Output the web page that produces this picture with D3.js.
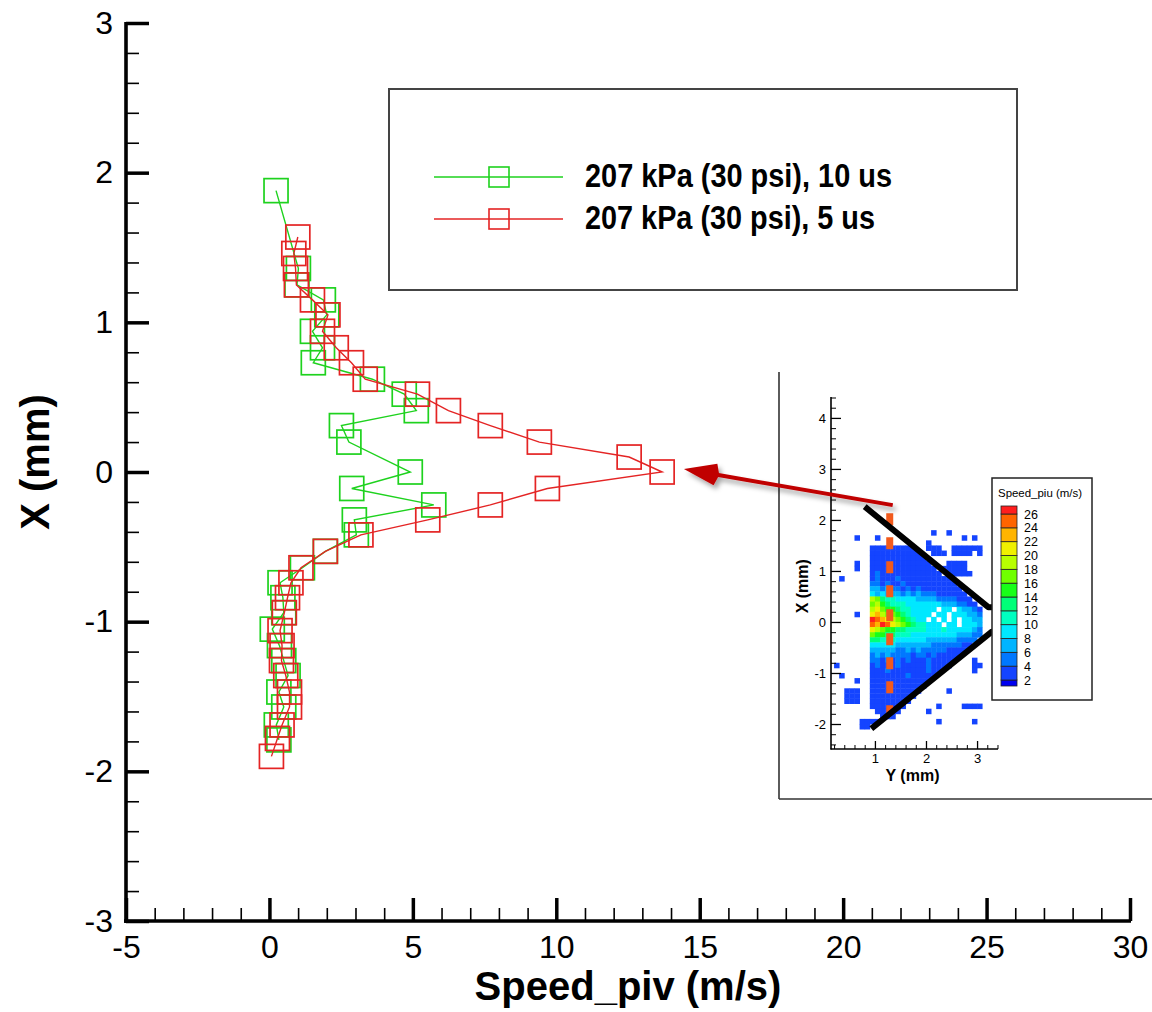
<!DOCTYPE html>
<html>
<head>
<meta charset="utf-8">
<script src="https://cdn.jsdelivr.net/npm/d3@7"></script>
<style>
  html, body { margin: 0; padding: 0; background: #fff; }
  svg { display: block; font-family: Arial, "Liberation Sans", sans-serif; }
</style>
</head>
<body>
<svg id="chart" width="1152" height="1012"></svg>
<script>
// ---------- main profile data ----------
const xTicksMain = [-5, 0, 5, 10, 15, 20, 25, 30];
const yTicksMain = [-3, -2, -1, 0, 1, 2, 3];
const seriesNames = ["207 kPa (30 psi), 10 us", "207 kPa (30 psi), 5 us"];
const seriesColors = ["#1ed21e", "#e42424"];

// 10 us pulse separation: position X (mm) and speed (m/s)
const pos10 = [1.88, 1.36, 1.25, 1.15, 1.05, 0.94, 0.83, 0.73, 0.62, 0.52, 0.41, 0.31, 0.20, 0.00,
  -0.11, -0.22, -0.32, -0.42, -0.53, -0.64, -0.74, -0.84, -0.94, -1.05, -1.16, -1.26, -1.36, -1.47,
  -1.57, -1.69, -1.79];
const speed10 = [0.23, 1.01, 0.96, 1.88, 2.00, 1.50, 1.85, 1.53, 3.59, 4.70, 5.12, 2.51, 2.77, 4.91,
  2.87, 5.73, 2.96, 3.03, 1.95, 1.15, 0.37, 0.47, 0.50, 0.10, 0.35, 0.50, 0.65, 0.33,
  0.50, 0.24, 0.33];

// 5 us pulse separation
const pos5 = [1.57, 1.46, 1.36, 1.25, 1.15, 1.05, 0.94, 0.83, 0.73, 0.62, 0.52, 0.41, 0.31, 0.20, 0.10,
  0.00, -0.11, -0.22, -0.32, -0.42, -0.53, -0.64, -0.74, -0.84, -0.94, -1.06, -1.16, -1.26, -1.36,
  -1.47, -1.57, -1.69, -1.78, -1.90];
const speed5 = [0.99, 0.85, 0.91, 0.94, 1.50, 2.04, 1.85, 2.33, 2.86, 3.34, 5.16, 6.24, 7.70, 9.41, 12.54,
  13.69, 9.69, 7.70, 5.52, 3.19, 1.95, 1.10, 0.75, 0.63, 0.52, 0.37, 0.44, 0.42, 0.57,
  0.70, 0.70, 0.44, 0.28, 0.07];

// ---------- inset: PIV speed field ----------
const insetYTicks = [1, 2, 3];
const insetXTicks = [-2, -1, 0, 1, 2, 3, 4];
const levelLabels = [26, 24, 22, 20, 18, 16, 14, 12, 10, 8, 6, 4, 2];
// colour of each level band, from below 2 up to above 26
const levelColors = ["#0000f0", "#1444ff", "#0078ff", "#00b4ff", "#00e8ff", "#00ffc0", "#00ff78",
  "#18ff18", "#70ff00", "#b8ff00", "#f0f000", "#ffb400", "#ff6400", "#ff1e1e"];
// field grid: rows go down in X from 1.9 mm, columns go right in Y from 0.2 mm, 0.1 mm cells;
// character = level band (hex digit - 1), "." = no vector
const fieldRows = [
  "..............................",
  "...................2..2.......",
  "....2...2................2.2..",
  "..................2...........",
  ".......222222222..222..222222.",
  ".......2222222222..222.2222.2.",
  ".......22222222222............",
  "....2..222222222222...2222....",
  "....2..2222222222222.22222....",
  ".......23222222222222.22222...",
  ".2.....2322232222222222.......",
  ".......33232232222222222......",
  ".......443433232322222222.....",
  ".......5454443434333222222....",
  ".......a9766555544443333222...",
  ".......9a8766655555554443322..",
  ".......ab98876655555.55.54432.",
  "....2..bca998765555.55.555443.",
  ".......edcba987655.5.5.5.5544.",
  ".......dcedba98766555.55.5554.",
  ".......ba98877666655565555543.",
  ".......9887766655555555544433.",
  ".......776665555554444443333..",
  ".......55555444444433333322...",
  ".......4444433434333332222....",
  ".......343433332332322222.....",
  ".......33232323222322222...2..",
  "2......2322232222232222....22.",
  ".......22232222222322......2..",
  ".2.....2222222322222..........",
  "....2..222222222222...........",
  ".......22222222222............",
  "..222..2222222222.....2.......",
  "..222..222222222..............",
  "..222..22222222...............",
  ".......2222222......2....2222.",
  "........22222.....2...........",
  ".........222..................",
  ".....2222...........2......2..",
  ".....22......................."
];
const fieldY0 = 0.2, fieldX0 = 1.9, fieldCell = 0.1;
// nozzle walls and the sampled profile line, in (Y, X) mm
const upperWall = [[0.80, 2.26], [3.22, 0.29], [3.48, 0.29]];
const lowerWall = [[0.93, -2.09], [3.29, -0.19], [3.48, -0.17]];
const profileLine = [[1.29, 2.13], [1.29, -1.79]];

// ---------- drawing ----------
const svg = d3.select("#chart");
const FONT = 'Arial, "Liberation Sans", sans-serif';

const x = d3.scaleLinear().domain([-5, 30]).range([126, 1130]);
const y = d3.scaleLinear().domain([-3, 3]).range([921, 23]);

const defs = svg.append("defs");
const shadow = defs.append("filter").attr("id", "soft-shadow")
  .attr("x", "-20%").attr("y", "-50%").attr("width", "140%").attr("height", "200%");
shadow.append("feDropShadow").attr("dx", 3).attr("dy", 4).attr("stdDeviation", 2.5)
  .attr("flood-color", "#000").attr("flood-opacity", 0.35);

// main axes: inward major and minor ticks
function styleAxis(g, width) {
  g.select(".domain").remove();
  g.selectAll(".tick line").attr("stroke", "#000").attr("stroke-width", width);
}
const xMinor = d3.range(-5, 30.01, 1).filter(v => v % 5 !== 0);
const yMinor = d3.range(-3, 3.001, 0.2).map(v => +v.toFixed(2)).filter(v => Math.abs(v - Math.round(v)) > 1e-6);

svg.append("g").attr("transform", "translate(0,921)")
  .call(d3.axisBottom(x).tickValues(xMinor).tickSize(-13).tickFormat(""))
  .call(g => styleAxis(g, 1.6));
svg.append("g").attr("transform", "translate(126,0)")
  .call(d3.axisLeft(y).tickValues(yMinor).tickSize(-13).tickFormat(""))
  .call(g => styleAxis(g, 1.6));

const gx = svg.append("g").attr("transform", "translate(0,921)")
  .call(d3.axisBottom(x).tickValues(xTicksMain).tickSize(-23).tickPadding(14).tickFormat(d => String(d)))
  .call(g => styleAxis(g, 3.5));
gx.selectAll("text").attr("font-family", FONT).attr("font-size", 32).attr("fill", "#000");

const gy = svg.append("g").attr("transform", "translate(126,0)")
  .call(d3.axisLeft(y).tickValues(yTicksMain).tickSize(-23).tickPadding(13).tickFormat(d => String(d)))
  .call(g => styleAxis(g, 3.5));
gy.selectAll("text").attr("font-family", FONT).attr("font-size", 32).attr("fill", "#000");

// axis lines
svg.append("line").attr("x1", x(-5)).attr("x2", x(-5)).attr("y1", y(3) - 1).attr("y2", y(-3) + 2)
  .attr("stroke", "#000").attr("stroke-width", 3.6);
svg.append("line").attr("x1", x(-5) - 2).attr("x2", x(30) + 1).attr("y1", y(-3)).attr("y2", y(-3))
  .attr("stroke", "#000").attr("stroke-width", 3.6);

// axis titles
svg.append("text").attr("x", (x(-5) + x(30)) / 2).attr("y", 1000)
  .attr("text-anchor", "middle").attr("font-family", FONT).attr("font-weight", "bold")
  .attr("font-size", 40).text("Speed_piv (m/s)");
svg.append("text").attr("transform", `translate(49,${y(0) - 10}) rotate(-90)`)
  .attr("text-anchor", "middle").attr("font-family", FONT).attr("font-weight", "bold")
  .attr("font-size", 40).text("X (mm)");

// profiles
const series = [
  { pos: pos10, speed: speed10, color: seriesColors[0] },
  { pos: pos5, speed: speed5, color: seriesColors[1] }
];
const line = d3.line().x(d => x(d[0])).y(d => y(d[1]));
const SQ = 24;
series.forEach(s => {
  const pts = s.speed.map((v, i) => [v, s.pos[i]]);
  svg.append("path").datum(pts).attr("d", line).attr("fill", "none")
    .attr("stroke", s.color).attr("stroke-width", 1.4);
  svg.append("g").selectAll("rect").data(pts).join("rect")
    .attr("x", d => x(d[0]) - SQ / 2).attr("y", d => y(d[1]) - SQ / 2)
    .attr("width", SQ).attr("height", SQ)
    .attr("fill", "none").attr("stroke", s.color).attr("stroke-width", 1.7);
});

// legend
const legend = svg.append("g");
legend.append("rect").attr("x", 389).attr("y", 89).attr("width", 628).attr("height", 201)
  .attr("fill", "#fff").attr("stroke", "#444").attr("stroke-width", 2);
const legendRows = [177, 219];
const legendWidths = [307, 290];
seriesNames.forEach((name, i) => {
  const ly = legendRows[i];
  legend.append("line").attr("x1", 434).attr("x2", 563).attr("y1", ly).attr("y2", ly)
    .attr("stroke", seriesColors[i]).attr("stroke-width", 1.4);
  legend.append("rect").attr("x", 489).attr("y", ly - 10).attr("width", 20).attr("height", 20)
    .attr("fill", "none").attr("stroke", seriesColors[i]).attr("stroke-width", 1.6);
  legend.append("text").attr("x", 585).attr("y", ly + 10)
    .attr("font-family", FONT).attr("font-weight", "bold").attr("font-size", 33)
    .attr("textLength", legendWidths[i]).attr("lengthAdjust", "spacingAndGlyphs")
    .text(name);
});

// ---------- inset ----------
const sY = d3.scaleLinear().domain([0.14, 3.41]).range([831, 998]);
const sX = d3.scaleLinear().domain([-2.49, 4.41]).range([749, 397]);
const inset = svg.append("g");

// frame
inset.append("line").attr("x1", 779).attr("x2", 779).attr("y1", 372).attr("y2", 799)
  .attr("stroke", "#333").attr("stroke-width", 1.6);
inset.append("line").attr("x1", 779).attr("x2", 1152).attr("y1", 799).attr("y2", 799)
  .attr("stroke", "#333").attr("stroke-width", 1.6);

// field cells
const cells = [];
fieldRows.forEach((row, r) => {
  row.padEnd(30, ".").slice(0, 30).split("").forEach((ch, c) => {
    if (ch !== ".") cells.push({ Y: fieldY0 + c * fieldCell, X: fieldX0 - r * fieldCell, level: parseInt(ch, 16) - 1 });
  });
});
inset.append("g").selectAll("rect").data(cells).join("rect")
  .attr("x", d => sY(d.Y)).attr("y", d => sX(d.X))
  .attr("width", d => sY(d.Y + fieldCell) - sY(d.Y) + 0.4)
  .attr("height", d => sX(d.X - fieldCell) - sX(d.X) + 0.4)
  .attr("fill", d => levelColors[d.level]);

// profile location and nozzle walls
const wallLine = d3.line().x(d => sY(d[0])).y(d => sX(d[1]));
inset.append("path").datum(profileLine).attr("d", wallLine)
  .attr("stroke", "#f25a1c").attr("stroke-width", 7).attr("stroke-dasharray", "12 12").attr("fill", "none");
[upperWall, lowerWall].forEach(w => {
  inset.append("path").datum(w).attr("d", wallLine).attr("fill", "none")
    .attr("stroke", "#000").attr("stroke-width", 6).attr("stroke-linejoin", "round");
});

// inset axes
const iyMinor = d3.range(0.2, 3.41, 0.2).map(v => +v.toFixed(2)).filter(v => Math.abs(v - Math.round(v)) > 1e-6);
const ixMinor = d3.range(-2.4, 4.41, 0.2).map(v => +v.toFixed(2)).filter(v => Math.abs(v - Math.round(v)) > 1e-6);
inset.append("g").attr("transform", "translate(0,749)")
  .call(d3.axisBottom(sY).tickValues(iyMinor).tickSize(-4).tickFormat(""))
  .call(g => styleAxis(g, 1));
inset.append("g").attr("transform", "translate(831,0)")
  .call(d3.axisLeft(sX).tickValues(ixMinor).tickSize(-5).tickFormat(""))
  .call(g => styleAxis(g, 1));
const ib = inset.append("g").attr("transform", "translate(0,749)")
  .call(d3.axisBottom(sY).tickValues(insetYTicks).tickSize(-8).tickPadding(5).tickFormat(d => String(d)))
  .call(g => styleAxis(g, 1.3));
ib.selectAll("text").attr("font-family", FONT).attr("font-size", 13).attr("fill", "#000");
const il = inset.append("g").attr("transform", "translate(831,0)")
  .call(d3.axisLeft(sX).tickValues(insetXTicks).tickSize(-10).tickPadding(5).tickFormat(d => String(d)))
  .call(g => styleAxis(g, 1.3));
il.selectAll("text").attr("font-family", FONT).attr("font-size", 13).attr("fill", "#000");
inset.append("line").attr("x1", 831).attr("x2", 831).attr("y1", 397).attr("y2", 749.5)
  .attr("stroke", "#000").attr("stroke-width", 1.6);
inset.append("line").attr("x1", 830.5).attr("x2", 998).attr("y1", 749).attr("y2", 749)
  .attr("stroke", "#000").attr("stroke-width", 1.6);
inset.append("text").attr("x", (sY(0.14) + sY(3.41)) / 2 - 2).attr("y", 781)
  .attr("text-anchor", "middle").attr("font-family", FONT).attr("font-weight", "bold")
  .attr("font-size", 16).text("Y (mm)");
inset.append("text").attr("transform", `translate(808,${sX(0.7)}) rotate(-90)`)
  .attr("text-anchor", "middle").attr("font-family", FONT).attr("font-weight", "bold")
  .attr("font-size", 16).text("X (mm)");

// colour bar
const cb = inset.append("g");
cb.append("rect").attr("x", 992).attr("y", 478).attr("width", 100).attr("height", 222)
  .attr("fill", "#fff").attr("stroke", "#222").attr("stroke-width", 1.5);
cb.append("text").attr("x", 998).attr("y", 497).attr("font-family", FONT).attr("font-size", 11.5)
  .attr("textLength", 84).attr("lengthAdjust", "spacingAndGlyphs").text("Speed_piu (m/s)");
const levelY = d3.scaleLinear().domain([26, 2]).range([514, 680]);
const bandEdges = [levelY(2) + 6, ...levelLabels.slice().reverse().map(v => levelY(v)), levelY(26) - 8];
levelColors.forEach((col, i) => {
  cb.append("rect").attr("x", 1001).attr("width", 16)
    .attr("y", bandEdges[i + 1]).attr("height", bandEdges[i] - bandEdges[i + 1])
    .attr("fill", col).attr("stroke", "#222").attr("stroke-width", 0.8);
});
cb.selectAll("text.lvl").data(levelLabels).join("text").attr("class", "lvl")
  .attr("x", 1024).attr("y", d => levelY(d) + 4.5)
  .attr("font-family", FONT).attr("font-size", 12.5).text(d => String(d));

// arrow from the sampled line to the profile peak
const tail = [sY(profileLine[0][0]) + 3, sX(profileLine[0][1] + 0.16)];
const tip = [x(14.45), y(0.02)];
const ang = Math.atan2(tail[1] - tip[1], tail[0] - tip[0]);
const headLen = 32, headHalf = 11;
const base = [tip[0] + headLen * Math.cos(ang), tip[1] + headLen * Math.sin(ang)];
const perp = [-Math.sin(ang), Math.cos(ang)];
const arrow = svg.append("g").attr("filter", "url(#soft-shadow)");
arrow.append("line").attr("x1", tail[0]).attr("y1", tail[1]).attr("x2", base[0]).attr("y2", base[1])
  .attr("stroke", "#c00000").attr("stroke-width", 4);
arrow.append("path")
  .attr("d", `M${tip[0]},${tip[1]}L${base[0] + perp[0] * headHalf},${base[1] + perp[1] * headHalf}` +
    `L${base[0] + headLen * 0.12 * Math.cos(ang)},${base[1] + headLen * 0.12 * Math.sin(ang)}` +
    `L${base[0] - perp[0] * headHalf},${base[1] - perp[1] * headHalf}Z`)
  .attr("fill", "#c00000");
</script>
</body>
</html>
